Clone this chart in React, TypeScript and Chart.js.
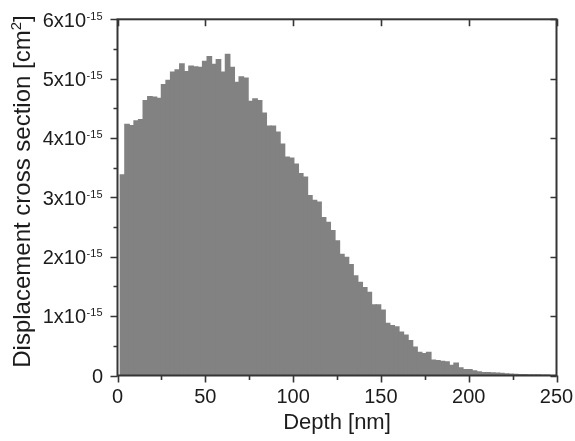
import React, { useEffect, useRef } from 'react';
import { Chart, registerables } from 'chart.js';

Chart.register(...registerables);

// Bin centres of the depth histogram [nm]
const depthNm = [
  2.84, 5.44, 8.05, 10.65, 13.25, 15.86, 18.46, 21.06, 23.66, 26.27,
  28.87, 31.47, 34.08, 36.68, 39.28, 41.89, 44.49, 47.09, 49.69, 52.30,
  54.90, 57.50, 60.11, 62.71, 65.31, 67.92, 70.52, 73.12, 75.72, 78.33,
  80.93, 83.53, 86.14, 88.74, 91.34, 93.95, 96.55, 99.15, 101.75, 104.36,
  106.96, 109.56, 112.17, 114.77, 117.37, 119.98, 122.58, 125.18, 127.78, 130.39,
  132.99, 135.59, 138.20, 140.80, 143.40, 146.01, 148.61, 151.21, 153.81, 156.42,
  159.02, 161.62, 164.23, 166.83, 169.43, 172.04, 174.64, 177.24, 179.84, 182.45,
  185.05, 187.65, 190.26, 192.86, 195.46, 198.07, 200.67, 203.27, 205.87, 208.48,
  211.08, 213.68, 216.29, 218.89, 221.49, 224.10, 226.70, 229.30, 231.90, 234.51,
  237.11, 239.71, 242.32, 244.92, 247.52,
];

// Displacement cross section, in units of 1e-15 cm^2
const crossSection = [
  3.39, 4.24, 4.22, 4.30, 4.32, 4.64, 4.71, 4.70, 4.68, 4.91,
  4.98, 5.12, 5.16, 5.26, 5.13, 5.22, 5.21, 5.20, 5.30, 5.38,
  5.25, 5.33, 5.12, 5.42, 5.20, 4.95, 5.04, 5.02, 4.63, 4.67,
  4.64, 4.43, 4.21, 4.21, 4.11, 3.91, 3.69, 3.67, 3.57, 3.41,
  3.35, 3.04, 2.96, 2.93, 2.67, 2.59, 2.45, 2.28, 2.05, 2.00,
  1.88, 1.69, 1.58, 1.49, 1.41, 1.20, 1.20, 1.11, 0.89, 0.85,
  0.83, 0.74, 0.69, 0.60, 0.49, 0.40, 0.38, 0.40, 0.27, 0.26,
  0.25, 0.24, 0.18, 0.22, 0.14, 0.11, 0.11, 0.09, 0.07, 0.06,
  0.06, 0.055, 0.05, 0.045, 0.04, 0.035, 0.03, 0.025, 0.025, 0.02,
  0.02, 0.02, 0.015, 0.015, 0.01,
];

const xMajorTicks = [0, 50, 100, 150, 200, 250];
const xMinorTicks = [25, 75, 125, 175, 225];
const yMajorTicks = [0, 1, 2, 3, 4, 5, 6];
const yMinorTicks = [0.5, 1.5, 2.5, 3.5, 4.5, 5.5];
const yTickMantissa = ['0', '1x10', '2x10', '3x10', '4x10', '5x10', '6x10'];
const yTickExponent = '-15';

const xTitle = 'Depth [nm]';
const yTitleMain = 'Displacement cross section [cm';
const yTitleSup = '2';
const yTitleEnd = ']';

const FONT = '"Liberation Sans", Arial, Helvetica, sans-serif';
const AXIS_COLOR = '#353535';
const TEXT_COLOR = '#1c1c1c';
const BAR_COLOR = '#828282';

const axesPlugin = {
  id: 'customAxes',
  afterDraw(chart: any) {
    const { ctx, chartArea: a } = chart;
    const x = chart.scales.x;
    const y = chart.scales.y;
    ctx.save();

    // Frame
    ctx.strokeStyle = AXIS_COLOR;
    ctx.lineWidth = 2;
    ctx.strokeRect(a.left, a.top, a.right - a.left, a.bottom - a.top);

    ctx.lineWidth = 1.6;
    ctx.beginPath();
    // bottom ticks (outward) and top ticks (inward)
    xMajorTicks.forEach((v) => {
      const px = Math.round(x.getPixelForValue(v)) + 0.5;
      ctx.moveTo(px, a.bottom);
      ctx.lineTo(px, a.bottom + 7);
      ctx.moveTo(px, a.top);
      ctx.lineTo(px, a.top + 7);
    });
    xMinorTicks.forEach((v) => {
      const px = Math.round(x.getPixelForValue(v)) + 0.5;
      ctx.moveTo(px, a.bottom);
      ctx.lineTo(px, a.bottom + 4.5);
    });
    // left ticks (outward) and right ticks (inward)
    yMajorTicks.forEach((v) => {
      const py = Math.round(y.getPixelForValue(v)) + 0.5;
      ctx.moveTo(a.left, py);
      ctx.lineTo(a.left - 7, py);
      ctx.moveTo(a.right, py);
      ctx.lineTo(a.right - 6, py);
    });
    yMinorTicks.forEach((v) => {
      const py = Math.round(y.getPixelForValue(v)) + 0.5;
      ctx.moveTo(a.left, py);
      ctx.lineTo(a.left - 4, py);
    });
    ctx.stroke();

    ctx.fillStyle = TEXT_COLOR;

    // x tick labels
    ctx.font = `20px ${FONT}`;
    ctx.textAlign = 'center';
    ctx.textBaseline = 'alphabetic';
    xMajorTicks.forEach((v) => {
      ctx.fillText(String(v), x.getPixelForValue(v), a.bottom + 27.5);
    });

    // y tick labels with superscript exponent
    const rightX = a.left - 15.5;
    yMajorTicks.forEach((v, i) => {
      const py = y.getPixelForValue(v);
      const mant = yTickMantissa[i];
      ctx.textAlign = 'left';
      if (v === 0) {
        ctx.font = `20px ${FONT}`;
        const w = ctx.measureText(mant).width;
        ctx.fillText(mant, rightX + 1 - w, py + 7.2);
        return;
      }
      ctx.font = `11px ${FONT}`;
      const supW = ctx.measureText(yTickExponent).width;
      ctx.font = `20px ${FONT}`;
      const mainW = ctx.measureText(mant).width;
      const startX = rightX - supW - mainW;
      ctx.fillText(mant, startX, py + 7.2);
      ctx.font = `11px ${FONT}`;
      ctx.fillText(yTickExponent, startX + mainW + 0.5, py + 0.2);
    });

    // x title
    ctx.font = `22px ${FONT}`;
    ctx.textAlign = 'center';
    ctx.fillText(xTitle, (a.left + a.right) / 2, 429);

    // y title (rotated)
    ctx.save();
    ctx.translate(29.5, 191.5);
    ctx.rotate(-Math.PI / 2);
    ctx.textAlign = 'left';
    ctx.font = `24px ${FONT}`;
    const w1 = ctx.measureText(yTitleMain).width;
    const w3 = ctx.measureText(yTitleEnd).width;
    ctx.font = `15px ${FONT}`;
    const w2 = ctx.measureText(yTitleSup).width;
    const total = w1 + w2 + w3;
    let cx = -total / 2;
    ctx.font = `24px ${FONT}`;
    ctx.fillText(yTitleMain, cx, 0);
    cx += w1;
    ctx.font = `15px ${FONT}`;
    ctx.fillText(yTitleSup, cx, -9);
    cx += w2;
    ctx.font = `24px ${FONT}`;
    ctx.fillText(yTitleEnd, cx, 0);
    ctx.restore();

    ctx.restore();
  },
};

export default function App() {
  const canvasRef = useRef<HTMLCanvasElement | null>(null);

  useEffect(() => {
    if (!canvasRef.current) return;
    const chart = new Chart(canvasRef.current, {
      type: 'bar',
      data: {
        datasets: [
          {
            label: 'Displacement cross section',
            data: depthNm.map((d, i) => ({ x: d, y: crossSection[i] })),
            backgroundColor: BAR_COLOR,
            borderWidth: 0,
            inflateAmount: 0,
            barPercentage: 1.25,
            categoryPercentage: 1,
          },
        ],
      },
      options: {
        animation: false,
        responsive: false,
        devicePixelRatio: 1,
        layout: { padding: { left: 117.5, top: 19.3, right: 18.5, bottom: 65.5 } },
        plugins: { legend: { display: false }, tooltip: { enabled: false } },
        scales: {
          x: { type: 'linear', min: 0, max: 250, offset: false, display: false },
          y: { type: 'linear', min: 0, max: 6, display: false },
        },
      },
      plugins: [axesPlugin],
    });
    return () => chart.destroy();
  }, []);

  return (
    <div style={{ position: 'absolute', left: 0, top: 0, width: 575, height: 441, background: '#fff' }}>
      <canvas ref={canvasRef} width={575} height={441} />
    </div>
  );
}
